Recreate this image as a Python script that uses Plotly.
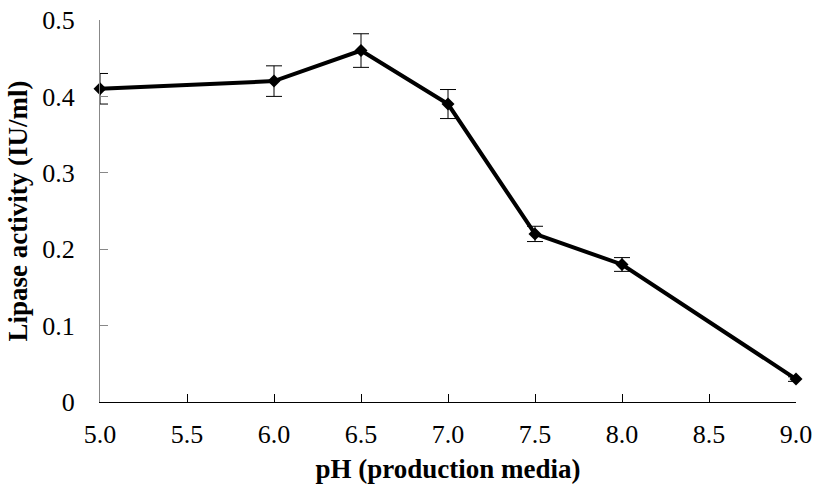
import plotly.graph_objects as go

ph = [5.0, 6.0, 6.5, 7.0, 7.5, 8.0, 9.0]
activity = [0.41, 0.42, 0.46, 0.39, 0.22, 0.18, 0.03]
error = [0.02, 0.02, 0.022, 0.019, 0.01, 0.009, 0.003]

x_ticks = [5.0, 5.5, 6.0, 6.5, 7.0, 7.5, 8.0, 8.5, 9.0]
x_tick_text = ["5.0", "5.5", "6.0", "6.5", "7.0", "7.5", "8.0", "8.5", "9.0"]
y_ticks = [0, 0.1, 0.2, 0.3, 0.4, 0.5]
y_tick_text = ["0", "0.1", "0.2", "0.3", "0.4", "0.5"]

FONT = "Liberation Serif, Times New Roman, serif"

fig = go.Figure()
fig.add_trace(go.Scatter(
    x=ph, y=activity,
    mode="lines+markers",
    line=dict(color="black", width=4),
    marker=dict(symbol="diamond", size=10, color="black"),
    error_y=dict(type="data", array=error, visible=True, color="black",
                 thickness=1, width=8),
    cliponaxis=False,
    showlegend=False,
))

fig.update_layout(
    width=814, height=485,
    margin=dict(l=100, r=18, t=20, b=83),
    paper_bgcolor="white", plot_bgcolor="white",
    font=dict(family=FONT, color="black", size=26),
    xaxis=dict(
        range=[5, 9], tickvals=x_ticks, ticktext=x_tick_text,
        ticks="inside", ticklen=8, tickcolor="black", tickwidth=1,
        showline=True, linecolor="black", linewidth=1,
        showgrid=False, zeroline=False, automargin=False,
        tickfont=dict(family=FONT, size=26),
        ticklabelstandoff=9,
        title=dict(text="<b>pH (production media)</b>",
                   font=dict(family=FONT, size=27), standoff=10),
    ),
    yaxis=dict(
        range=[0, 0.5], tickvals=y_ticks, ticktext=y_tick_text,
        ticks="inside", ticklen=8, tickcolor="#888888", tickwidth=1,
        showline=True, linecolor="#888888", linewidth=1,
        showgrid=False, zeroline=False, automargin=False,
        tickfont=dict(family=FONT, size=26),
        ticklabelstandoff=19,
        title=dict(text="<b>Lipase activity (IU/ml)</b>",
                   font=dict(family=FONT, size=27), standoff=6),
    ),
)

fig.write_html("out.html")
